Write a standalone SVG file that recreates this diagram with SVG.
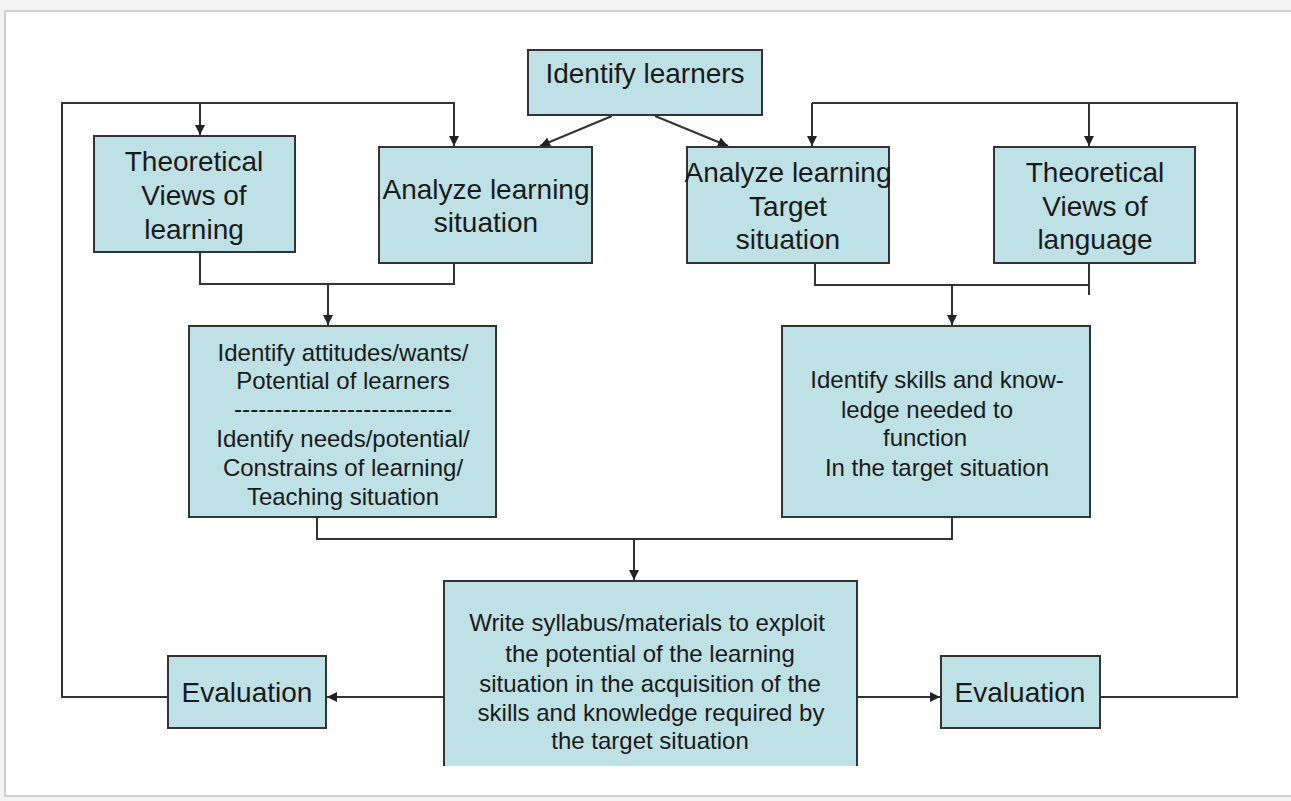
<svg xmlns="http://www.w3.org/2000/svg" width="1291" height="801" viewBox="0 0 1291 801">
<defs>
<marker id="ah" markerUnits="userSpaceOnUse" markerWidth="10" markerHeight="10" refX="10" refY="5" orient="auto">
<path d="M0,0 L10,5 L0,10 z" fill="#222"/>
</marker>
<style>
.box{fill:#bee1e5;stroke:#333;stroke-width:2}
.t{font-family:"Liberation Sans",Arial,sans-serif;fill:#1a1a1a;text-anchor:middle}
.big{font-size:28px}
.sm{font-size:24px}
.c{fill:none;stroke:#333;stroke-width:2}
.a{marker-end:url(#ah)}
</style>
</defs>
<rect x="0" y="0" width="1291" height="801" fill="#f3f3f3"/>
<rect x="5" y="11" width="1290" height="785" fill="#ffffff" stroke="#cfcfcf" stroke-width="2"/>

<g id="connectors">
<path class="c a" d="M168,697 H62 V103 H454 V146"/>
<path class="c a" d="M200,103 V135"/>
<path class="c a" d="M612,116 L540,146"/>
<path class="c a" d="M655,116 L728,146"/>
<path class="c" d="M1100,697 H1237 V103 H812"/>
<path class="c a" d="M812,103 V146"/>
<path class="c a" d="M1089,103 V146"/>
<path class="c" d="M200,252 V284 H454 V263"/>
<path class="c a" d="M328,284 V325"/>
<path class="c" d="M815,263 V285 H1089"/>
<path class="c" d="M1089,263 V295"/>
<path class="c a" d="M952,285 V325"/>
<path class="c" d="M317,517 V539 H952 V517"/>
<path class="c a" d="M634,539 V580"/>
<path class="c a" d="M444,697 H327"/>
<path class="c a" d="M857,697 H940"/>
</g>

<g id="identify-learners">
<rect class="box" x="528" y="50" width="234" height="65"/>
<text class="t big" x="645" y="83">Identify learners</text>
</g>

<g id="theoretical-learning">
<rect class="box" x="94" y="136" width="201" height="116"/>
<text class="t big" x="194" y="171">Theoretical</text>
<text class="t big" x="194" y="205">Views of</text>
<text class="t big" x="194" y="239">learning</text>
</g>

<g id="analyze-learning-situation">
<rect class="box" x="379" y="147" width="213" height="116"/>
<text class="t big" x="486" y="199">Analyze learning</text>
<text class="t big" x="486" y="232">situation</text>
</g>

<g id="analyze-target-situation">
<rect class="box" x="687" y="147" width="202" height="116"/>
<text class="t big" x="788" y="182">Analyze learning</text>
<text class="t big" x="788" y="216">Target</text>
<text class="t big" x="788" y="249">situation</text>
</g>

<g id="theoretical-language">
<rect class="box" x="994" y="147" width="201" height="116"/>
<text class="t big" x="1095" y="182">Theoretical</text>
<text class="t big" x="1095" y="216">Views of</text>
<text class="t big" x="1095" y="249">language</text>
</g>

<g id="identify-attitudes">
<rect class="box" x="189" y="326" width="307" height="191"/>
<text class="t sm" x="343" y="361">Identify attitudes/wants/</text>
<text class="t sm" x="343" y="389">Potential of learners</text>
<text class="t sm" x="343" y="417" textLength="218" lengthAdjust="spacingAndGlyphs">---------------------------</text>
<text class="t sm" x="343" y="447">Identify needs/potential/</text>
<text class="t sm" x="343" y="476">Constrains of learning/</text>
<text class="t sm" x="343" y="505">Teaching situation</text>
</g>

<g id="identify-skills">
<rect class="box" x="782" y="326" width="308" height="191"/>
<text class="t sm" x="937" y="388">Identify skills and know-</text>
<text class="t sm" x="927" y="418">ledge needed to</text>
<text class="t sm" x="925" y="446">function</text>
<text class="t sm" x="937" y="476">In the target situation</text>
</g>

<g id="write-syllabus">
<rect x="444" y="581" width="413" height="185" fill="#bee1e5"/>
<path d="M444,766 V581 H857 V766" fill="none" stroke="#333" stroke-width="2"/>
<text class="t sm" x="647" y="631">Write syllabus/materials to exploit</text>
<text class="t sm" x="650" y="662">the potential of the learning</text>
<text class="t sm" x="650" y="692">situation in the acquisition of the</text>
<text class="t sm" x="651" y="721">skills and knowledge required by</text>
<text class="t sm" x="650" y="749">the target situation</text>
</g>

<g id="evaluation-left">
<rect class="box" x="168" y="656" width="158" height="72"/>
<text class="t big" x="247" y="702">Evaluation</text>
</g>

<g id="evaluation-right">
<rect class="box" x="941" y="656" width="159" height="72"/>
<text class="t big" x="1020" y="702">Evaluation</text>
</g>
</svg>
